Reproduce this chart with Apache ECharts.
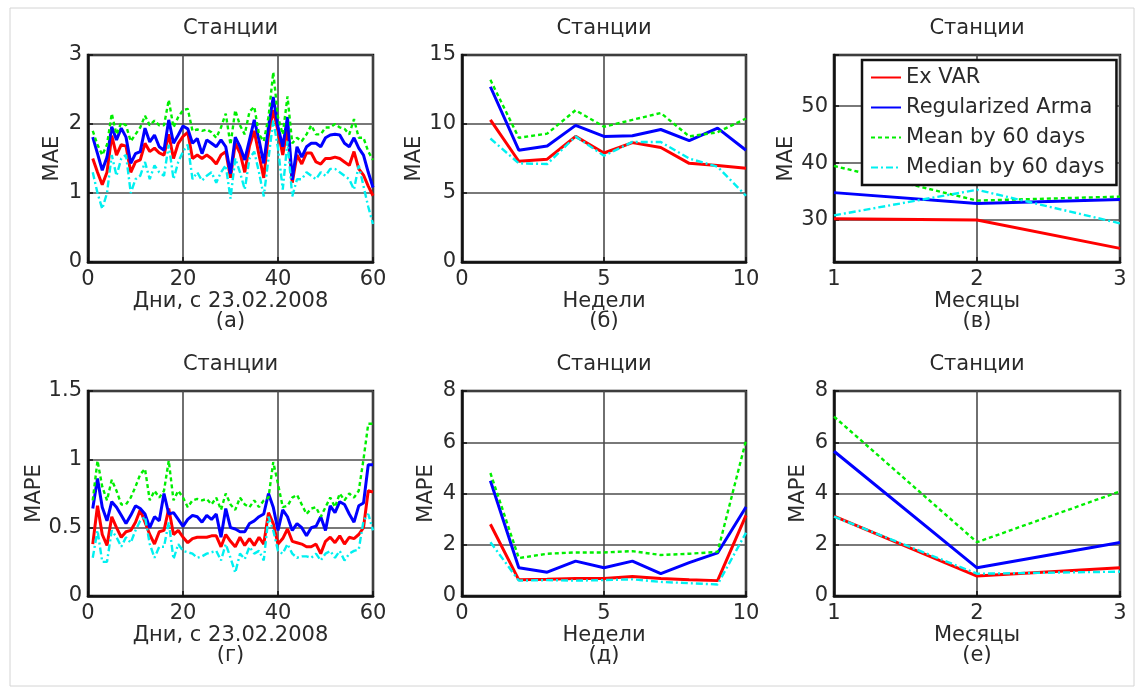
<!DOCTYPE html>
<html>
<head>
<meta charset="utf-8">
<script src="https://cdn.jsdelivr.net/npm/echarts@6/dist/echarts.min.js"></script>
<style>
  html, body { margin: 0; padding: 0; background: #fff; }
  #chart { width: 1143px; height: 694px; }
</style>
</head>
<body>
<div id="chart"></div>
<script>
// ---- data ----
const seriesNames = ['Ex VAR', 'Regularized Arma', 'Mean by 60 days', 'Median by 60 days'];
const panelLetters = ['(а)', '(б)', '(в)', '(г)', '(д)', '(е)'];
const panelTitle = 'Станции';
const xNames = ['Дни, с 23.02.2008', 'Недели', 'Месяцы'];
const yNames = ['MAE', 'MAPE'];

const days = Array.from({ length: 60 }, (_, i) => i + 1);
const weeks = [1, 2, 3, 4, 5, 6, 7, 8, 9, 10];
const months = [1, 2, 3];

// MAE by day
const maeDayExVar = [1.5, 1.3, 1.12, 1.3, 1.83, 1.55, 1.7, 1.68, 1.3, 1.45, 1.48, 1.72, 1.6, 1.65, 1.58, 1.55, 1.85, 1.5, 1.72, 1.82,
  1.88, 1.5, 1.55, 1.5, 1.55, 1.5, 1.42, 1.55, 1.6, 1.22, 1.72, 1.58, 1.3, 1.68, 1.9, 1.55, 1.22, 1.85, 2.2, 1.9,
  1.55, 1.95, 1.15, 1.55, 1.42, 1.58, 1.58, 1.45, 1.42, 1.5, 1.5, 1.52, 1.5, 1.45, 1.4, 1.6, 1.35, 1.26, 1.1, 0.96];
const maeDayArma = [1.81, 1.57, 1.33, 1.52, 1.96, 1.77, 1.94, 1.81, 1.43, 1.57, 1.6, 1.94, 1.74, 1.84, 1.67, 1.62, 2.06, 1.72, 1.84, 1.97,
  1.93, 1.72, 1.79, 1.57, 1.77, 1.72, 1.67, 1.77, 1.67, 1.28, 1.81, 1.67, 1.48, 1.77, 2.06, 1.77, 1.43, 1.96, 2.39, 1.96,
  1.67, 2.1, 1.19, 1.67, 1.52, 1.67, 1.72, 1.72, 1.67, 1.8, 1.84, 1.85, 1.84, 1.72, 1.67, 1.8, 1.65, 1.55, 1.3, 1.08];
const maeDayMean = [1.9, 1.7, 1.55, 1.7, 2.15, 1.85, 2.02, 1.98, 1.75, 1.85, 1.95, 2.12, 1.98, 2.05, 1.98, 1.98, 2.35, 1.95, 2.1, 2.2,
  2.22, 1.9, 1.92, 1.9, 1.92, 1.88, 1.8, 1.95, 2.15, 1.7, 2.2, 1.98, 1.85, 2.18, 2.25, 1.85, 1.75, 2.1, 2.75, 2.1,
  1.85, 2.4, 1.72, 1.8, 1.75, 1.85, 1.98, 1.85, 1.85, 1.95, 1.95, 2.0, 1.95, 1.93, 1.85, 2.07, 1.8, 1.8, 1.6, 1.48];
const maeDayMedian = [1.3, 1.0, 0.77, 1.0, 1.55, 1.25, 1.5, 1.55, 1.0, 1.2, 1.25, 1.45, 1.2, 1.4, 1.3, 1.25, 1.7, 1.2, 1.45, 1.6,
  1.7, 1.2, 1.3, 1.18, 1.25, 1.3, 1.15, 1.3, 1.4, 0.92, 1.5, 1.3, 1.05, 1.5, 1.6, 1.3, 0.95, 1.5, 2.05, 1.65,
  1.05, 1.75, 0.95, 1.2, 1.2, 1.3, 1.25, 1.2, 1.3, 1.25, 1.35, 1.35, 1.3, 1.25, 1.2, 1.05, 1.4, 1.1, 0.8, 0.55];

// MAE by week
const maeWeekExVar = [10.3, 7.3, 7.45, 9.1, 7.9, 8.65, 8.3, 7.15, 7.0, 6.8];
const maeWeekArma = [12.7, 8.1, 8.4, 9.9, 9.1, 9.15, 9.6, 8.8, 9.7, 8.1];
const maeWeekMean = [13.2, 9.0, 9.3, 11.0, 9.8, 10.3, 10.8, 9.1, 9.4, 10.4];
const maeWeekMedian = [8.95, 7.15, 7.1, 9.1, 7.7, 8.7, 8.7, 7.5, 6.9, 4.8];

// MAE by month
const maeMonthExVar = [30.2, 30.0, 25.0];
const maeMonthArma = [34.8, 32.9, 33.6];
const maeMonthMean = [39.5, 33.4, 34.1];
const maeMonthMedian = [30.8, 35.3, 29.4];

// MAPE by day
const mapeDayExVar = [0.38, 0.66, 0.45, 0.37, 0.58, 0.5, 0.43, 0.47, 0.48, 0.54, 0.63, 0.54, 0.45, 0.38, 0.47, 0.48, 0.64, 0.45, 0.48, 0.43,
  0.39, 0.42, 0.43, 0.43, 0.43, 0.44, 0.44, 0.36, 0.45, 0.4, 0.36, 0.43, 0.37, 0.42, 0.37, 0.43, 0.38, 0.61, 0.53, 0.38,
  0.42, 0.49, 0.4, 0.39, 0.38, 0.36, 0.36, 0.38, 0.31, 0.4, 0.43, 0.39, 0.44, 0.38, 0.43, 0.42, 0.45, 0.5, 0.77, 0.76];
const mapeDayArma = [0.64, 0.86, 0.65, 0.55, 0.69, 0.65, 0.59, 0.53, 0.59, 0.66, 0.64, 0.6, 0.5, 0.58, 0.55, 0.75, 0.6, 0.61, 0.56, 0.51,
  0.56, 0.59, 0.58, 0.54, 0.59, 0.56, 0.6, 0.43, 0.64, 0.5, 0.49, 0.47, 0.47, 0.53, 0.55, 0.58, 0.6, 0.75, 0.65, 0.48,
  0.63, 0.58, 0.48, 0.53, 0.5, 0.44, 0.5, 0.51, 0.58, 0.48, 0.66, 0.61, 0.69, 0.67, 0.6, 0.54, 0.66, 0.68, 0.96, 0.96];
const mapeDayMean = [0.7, 0.99, 0.8, 0.7, 0.85, 0.77, 0.67, 0.67, 0.72, 0.8, 0.89, 0.93, 0.7, 0.77, 0.72, 0.77, 0.99, 0.7, 0.77, 0.72,
  0.65, 0.7, 0.71, 0.7, 0.71, 0.67, 0.72, 0.63, 0.75, 0.67, 0.63, 0.72, 0.67, 0.65, 0.7, 0.65, 0.7, 0.72, 0.98, 0.82,
  0.65, 0.66, 0.72, 0.74, 0.67, 0.6, 0.64, 0.65, 0.58, 0.65, 0.72, 0.65, 0.75, 0.7, 0.75, 0.72, 0.77, 1.0, 1.26, 1.26];
const mapeDayMedian = [0.28, 0.48, 0.25, 0.25, 0.48, 0.43, 0.36, 0.43, 0.39, 0.48, 0.55, 0.58, 0.38, 0.28, 0.36, 0.36, 0.54, 0.27, 0.38, 0.33,
  0.32, 0.31, 0.28, 0.29, 0.31, 0.32, 0.33, 0.26, 0.38, 0.28, 0.17, 0.31, 0.27, 0.36, 0.31, 0.33, 0.26, 0.58, 0.48, 0.33,
  0.31, 0.38, 0.31, 0.28, 0.29, 0.29, 0.28, 0.31, 0.26, 0.31, 0.33, 0.28, 0.33, 0.26, 0.31, 0.33, 0.34, 0.55, 0.6, 0.48];

// MAPE by week
const mapeWeekExVar = [2.8, 0.63, 0.65, 0.68, 0.68, 0.76, 0.68, 0.63, 0.6, 3.15];
const mapeWeekArma = [4.5, 1.1, 0.93, 1.36, 1.1, 1.36, 0.87, 1.3, 1.68, 3.47];
const mapeWeekMean = [4.8, 1.48, 1.65, 1.7, 1.7, 1.75, 1.6, 1.65, 1.72, 6.07];
const mapeWeekMedian = [2.1, 0.6, 0.62, 0.6, 0.62, 0.65, 0.55, 0.5, 0.45, 2.47];

// MAPE by month
const mapeMonthExVar = [3.12, 0.78, 1.1];
const mapeMonthArma = [5.65, 1.1, 2.09];
const mapeMonthMean = [7.0, 2.1, 4.08];
const mapeMonthMedian = [3.1, 0.87, 0.95];

// ---- styling ----
const FONT = 'DejaVu Sans';
const FS = 21;
const TEXT = '#2a2a2a';
const lineStyles = [
  { color: '#ff0000', width: 3, type: 'solid' },
  { color: '#0000ff', width: 3, type: 'solid' },
  { color: '#00ee00', width: 2.4, type: [4, 3] },
  { color: '#00f0f0', width: 2.4, type: [7, 3, 2, 3] }
];

// plot rectangles: [left, top, width, height]
const rects = [
  [88, 55, 285, 207], [462, 55, 284, 207], [834, 55, 286, 207],
  [88, 391, 285, 205], [462, 391, 284, 205], [834, 391, 286, 205]
];

const panels = [
  { x: days, ys: [maeDayExVar, maeDayArma, maeDayMean, maeDayMedian], xr: [0, 60, 20], yr: [0, 3, 1], xn: 0, yn: 0 },
  { x: weeks, ys: [maeWeekExVar, maeWeekArma, maeWeekMean, maeWeekMedian], xr: [0, 10, 5], yr: [0, 15, 5], xn: 1, yn: 0 },
  { x: months, ys: [maeMonthExVar, maeMonthArma, maeMonthMean, maeMonthMedian], xr: [1, 3, 1], yr: [22.6, 59, null], xn: 2, yn: 0 },
  { x: days, ys: [mapeDayExVar, mapeDayArma, mapeDayMean, mapeDayMedian], xr: [0, 60, 20], yr: [0, 1.5, 0.5], xn: 0, yn: 1 },
  { x: weeks, ys: [mapeWeekExVar, mapeWeekArma, mapeWeekMean, mapeWeekMedian], xr: [0, 10, 5], yr: [0, 8, 2], xn: 1, yn: 1 },
  { x: months, ys: [mapeMonthExVar, mapeMonthArma, mapeMonthMean, mapeMonthMedian], xr: [1, 3, 1], yr: [0, 8, 2], xn: 2, yn: 1 }
];

const gridLine = { show: true, lineStyle: { color: '#4c4c4c', width: 1.6 } };
const axisLine = { show: true, onZero: false, lineStyle: { color: '#111', width: 2.5 } };
const axisTick = { show: true, inside: true, length: 5, lineStyle: { color: '#111', width: 1.5 } };
const labelStyle = { fontFamily: FONT, fontSize: FS, color: TEXT };

const grid = [], xAxis = [], yAxis = [], series = [], graphic = [];

panels.forEach((p, i) => {
  const [l, t, w, h] = rects[i];
  grid.push({ left: l, top: t, width: w, height: h, show: true, borderColor: '#111', borderWidth: 2.5, backgroundColor: '#fff' });

  xAxis.push({
    gridIndex: i, type: 'value', min: p.xr[0], max: p.xr[1], interval: p.xr[2],
    axisLine, axisTick, splitLine: gridLine,
    axisLabel: Object.assign({ margin: 7 }, labelStyle),
    name: xNames[p.xn], nameLocation: 'middle', nameGap: 29,
    nameTextStyle: labelStyle
  });

  const y = {
    gridIndex: i, type: 'value', min: p.yr[0], max: p.yr[1],
    axisLine, axisTick, splitLine: gridLine,
    axisLabel: Object.assign({ margin: 6 }, labelStyle),
    name: yNames[p.yn], nameLocation: 'middle', nameGap: 25,
    nameTextStyle: labelStyle
  };
  if (p.yr[2] != null) {
    y.interval = p.yr[2];
  } else {
    y.splitNumber = 4;
    y.axisLabel.formatter = v => (v % 10 === 0 ? String(v) : '');
  }
  yAxis.push(y);

  p.ys.forEach((vals, k) => {
    series.push({
      name: seriesNames[k], type: 'line', xAxisIndex: i, yAxisIndex: i,
      data: vals.map((v, j) => [p.x[j], v]),
      symbol: 'none', color: lineStyles[k].color,
      lineStyle: lineStyles[k], z: 3 + k, silent: true
    });
  });

  graphic.push({
    type: 'text', x: l + w / 2, y: t - 26,
    style: { text: panelTitle, font: FS + 'px "' + FONT + '"', fill: TEXT, textAlign: 'center', textVerticalAlign: 'middle' }
  });
  graphic.push({
    type: 'text', x: l + w / 2, y: t + h + 60,
    style: { text: panelLetters[i], font: FS + 'px "' + FONT + '"', fill: TEXT, textAlign: 'center', textVerticalAlign: 'middle' }
  });
});

// faint outer frame
graphic.push({
  type: 'rect', shape: { x: 10, y: 8, width: 1124, height: 678 },
  style: { fill: 'none', stroke: '#d4d4d4', lineWidth: 1 }, z: -10
});

const chart = echarts.init(document.getElementById('chart'), null, { renderer: 'canvas' });
chart.setOption({
  animation: false,
  backgroundColor: '#fff',
  grid, xAxis, yAxis, series, graphic,
  legend: {
    data: seriesNames, orient: 'vertical', left: 862, top: 60,
    itemWidth: 30, itemHeight: 14, itemGap: 9,
    padding: [7, 12, 7, 8],
    backgroundColor: '#fff', borderColor: '#111', borderWidth: 2.5,
    selectedMode: false, z: 20,
    itemStyle: { opacity: 0 },
    textStyle: { fontFamily: FONT, fontSize: FS, color: TEXT }
  }
});
</script>
</body>
</html>
